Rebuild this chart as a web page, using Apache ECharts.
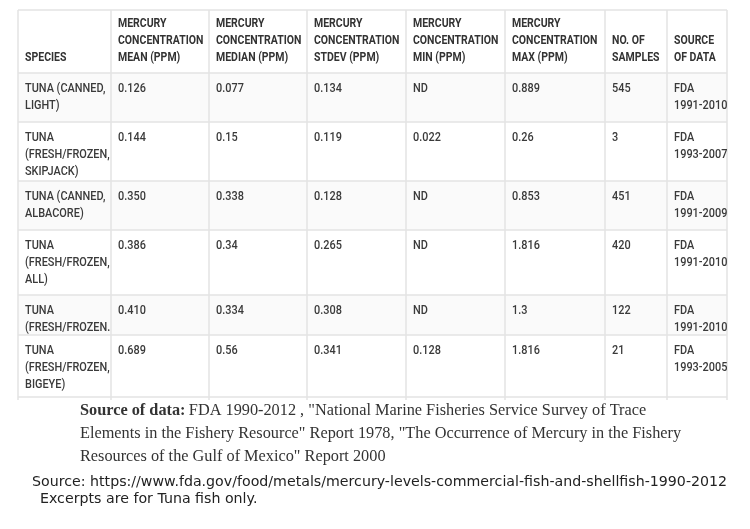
<!DOCTYPE html>
<html><head><meta charset="utf-8">
<script src="https://cdn.jsdelivr.net/npm/echarts@6/dist/echarts.min.js"></script>
<style>html,body{margin:0;padding:0;background:#fff}#c{width:750px;height:529px}</style>
</head><body><div id="c"></div>
<script>
const headers = [["SPECIES"],["MERCURY","CONCENTRATION","MEAN (PPM)"],["MERCURY","CONCENTRATION","MEDIAN (PPM)"],["MERCURY","CONCENTRATION","STDEV (PPM)"],["MERCURY","CONCENTRATION","MIN (PPM)"],["MERCURY","CONCENTRATION","MAX (PPM)"],["NO. OF","SAMPLES"],["SOURCE","OF DATA"]];
const species = [["TUNA (CANNED,","LIGHT)"],["TUNA","(FRESH/FROZEN,","SKIPJACK)"],["TUNA (CANNED,","ALBACORE)"],["TUNA","(FRESH/FROZEN,","ALL)"],["TUNA","(FRESH/FROZEN."],["TUNA","(FRESH/FROZEN,","BIGEYE)"]];
const meanVals = ["0.126","0.144","0.350","0.386","0.410","0.689"];
const medianVals = ["0.077","0.15","0.338","0.34","0.334","0.56"];
const stdevVals = ["0.134","0.119","0.128","0.265","0.308","0.341"];
const minVals = ["ND","0.022","ND","ND","ND","0.128"];
const maxVals = ["0.889","0.26","0.853","1.816","1.3","1.816"];
const samples = ["545","3","451","420","122","21"];
const sources = [["FDA","1991-2010"],["FDA","1993-2007"],["FDA","1991-2009"],["FDA","1991-2010"],["FDA","1991-2010"],["FDA","1993-2005"]];
const noteLines = ["FDA 1990-2012 , \"National Marine Fisheries Service Survey of Trace","Elements in the Fishery Resource\" Report 1978, \"The Occurrence of Mercury in the Fishery","Resources of the Gulf of Mexico\" Report 2000"];
const sourceLine = "Source: https://www.fda.gov/food/metals/mercury-levels-commercial-fish-and-shellfish-1990-2012";
const excerptLine = "Excerpts are for Tuna fish only.";

const colX = [18,111,209,307,406,505,605,667,727];
const rowY = [10,73,122,181,230,295,335,397];
const FONT = 'Roboto,sans-serif';
const SX = 0.84;
const g = [];
const cols = [species, meanVals, medianVals, stdevVals, minVals, maxVals, samples, sources];
for (let r = 0; r < 7; r++) {
  g.push({type:'rect', shape:{x:colX[0], y:rowY[r], width:colX[8]-colX[0], height:(rowY[r+1]||400)-rowY[r]}, style:{fill: r%2===1 ? '#fafafa' : '#fff'}, z:0});
}
g.push({type:'rect', shape:{x:colX[0], y:397, width:colX[8]-colX[0], height:4}, style:{fill:'#fff'}, z:0});
for (let i = 0; i < colX.length; i++) {
  g.push({type:'line', shape:{x1:colX[i], y1:rowY[0], x2:colX[i], y2:400}, style:{stroke:'#e3e3e3', lineWidth:1.5}, z:2});
}
for (let j = 0; j < rowY.length; j++) {
  g.push({type:'line', shape:{x1:colX[0], y1:rowY[j], x2:colX[8], y2:rowY[j]}, style:{stroke:'#e3e3e3', lineWidth:1.5}, z:2});
}
headers.forEach((h, c) => {
  const n = h.length;
  h.forEach((t, k) => {
    g.push({type:'text', x:colX[c]+7, y:58 - (n-1-k)*17, scaleX:SX, style:{text:t, fill:'#333', font:'bold 12.5px '+FONT, textVerticalAlign:'middle'}, z:3});
  });
});
for (let r = 0; r < 6; r++) {
  const top = rowY[r+1];
  const bottom = r < 5 ? rowY[r+2] : 397;
  cols.forEach((col, c) => {
    const v = col[r];
    const lines = Array.isArray(v) ? v : [v];
    lines.forEach((t, k) => {
      const y = top + 16 + k*17;
      if (y + 6 > bottom) return;
      g.push({type:'text', x:colX[c]+7, y:y, scaleX:SX, style:{text:t, fill:'#3a3a3a', font:'500 13px '+FONT, textVerticalAlign:'middle'}, z:3});
    });
  });
}
const SERIF = '16.3px "Liberation Serif",serif';
g.push({type:'text', x:80, y:411, style:{rich:{b:{font:'bold '+SERIF, fill:'#333'}, n:{font:SERIF, fill:'#333'}}, text:'{b|Source of data:} {n|'+noteLines[0]+'}', textVerticalAlign:'middle'}, z:3});
g.push({type:'text', x:80, y:434, style:{text:noteLines[1], font:SERIF, fill:'#333', textVerticalAlign:'middle'}, z:3});
g.push({type:'text', x:80, y:457, style:{text:noteLines[2], font:SERIF, fill:'#333', textVerticalAlign:'middle'}, z:3});
g.push({type:'text', x:32, y:482, style:{text:sourceLine, font:'14.2px "DejaVu Sans",sans-serif', fill:'#222', textVerticalAlign:'middle'}, z:3});
g.push({type:'text', x:40, y:499, style:{text:excerptLine, font:'14.2px "DejaVu Sans",sans-serif', fill:'#222', textVerticalAlign:'middle'}, z:3});

const chart = echarts.init(document.getElementById('c'));
chart.setOption({animation:false, graphic:{elements:g}});
</script></body></html>
